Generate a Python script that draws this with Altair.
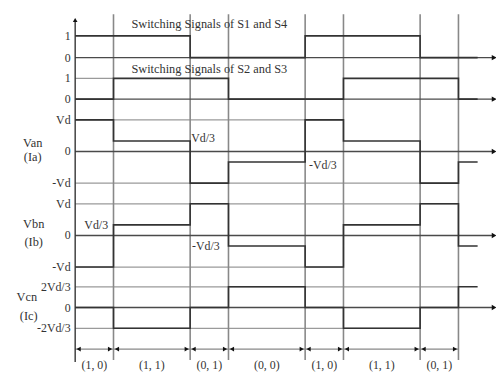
import altair as alt
import pandas as pd

# ---------------- data ----------------
edges = [0, 1, 3, 4, 6, 7, 9, 10, 10.5]          # switching instants (time units)
states = ["(1, 0)", "(1, 1)", "(0, 1)", "(0, 0)", "(1, 0)", "(1, 1)", "(0, 1)"]
s1 = [1, 1, 0, 0, 1, 1, 0, 0]
s2 = [0, 1, 1, 0, 0, 1, 1, 0]
van = [1, 1/3, -1, -1/3, 1, 1/3, -1, -1/3]       # in units of Vd
vbn = [-1, 1/3, 1, -1/3, -1, 1/3, 1, -1/3]
vcn = [0, -2/3, 0, 2/3, 0, -2/3, 0, 2/3]

tick_S = [(1, "1"), (0, "0")]
tick_V = [(1, "Vd"), (0, "0"), (-1, "-Vd")]
tick_C = [(2/3, "2Vd/3"), (0, "0"), (-2/3, "-2Vd/3")]

# ---------------- layout ----------------
PX = 38.8                 # pixels per time unit
X0 = -68 / PX
W, H = 494, 364
X1 = X0 + W / PX
T_END = 10.93             # arrow tip of time axes

# panel: (zero level position from top, pixels per unit)
panels = {
    "S1": (48, 22), "S2": (90, 21), "Van": (143, 32),
    "Vbn": (228, 32), "Vcn": (301, 31.5),
}
signals = {"S1": s1, "S2": s2, "Van": van, "Vbn": vbn, "Vcn": vcn}
ticks = {"S1": tick_S, "S2": tick_S, "Van": tick_V, "Vbn": tick_V, "Vcn": tick_C}

def pos(p, v):
    z, a = panels[p]
    return z - v * a

FONT = "Liberation Serif"
xs = alt.Scale(domain=[X0, X1], nice=False, zero=False)
ys = alt.Scale(domain=[0, H], reverse=True, nice=False, zero=False)

def X(f="t"):
    return alt.X(f"{f}:Q", scale=xs, axis=None)

def Y(f="d"):
    return alt.Y(f"{f}:Q", scale=ys, axis=None)

# step signals
rows = []
for p, vals in signals.items():
    vv = vals + [vals[-1]]
    for t, v in zip(edges, vv):
        rows.append({"s": p, "t": t, "d": pos(p, v)})
sig_df = pd.DataFrame(rows)
sig = alt.Chart(sig_df).mark_line(interpolate="step-after", color="#333333",
                                  strokeWidth=1.6, clip=False).encode(
    x=X(), y=Y(), detail="s:N")

# light gridlines at non-zero levels
grid_rows = [
    {"t": 0, "t2": 1, "d": pos("S2", 1)},
    {"t": 0, "t2": 7, "d": pos("Van", 1)},
    {"t": 0, "t2": 10, "d": pos("Van", -1)},
    {"t": 0, "t2": 10, "d": pos("Vbn", 1)},
    {"t": 0, "t2": 7, "d": pos("Vbn", -1)},
    {"t": 0, "t2": 10, "d": pos("Vcn", 2/3)},
    {"t": 0, "t2": 9, "d": pos("Vcn", -2/3)},
]
grid = alt.Chart(pd.DataFrame(grid_rows)).mark_rule(color="#9a9a9a", strokeWidth=1.2).encode(
    x=X(), x2=alt.X2("t2:Q"), y=Y())

# zero-level time axes with arrows
zero_df = pd.DataFrame([{"t": 0, "t2": T_END, "d": pos(p, 0)} for p in panels])
zero = alt.Chart(zero_df).mark_rule(color="#4a4a4a", strokeWidth=1.4).encode(
    x=X(), x2=alt.X2("t2:Q"), y=Y())
zero_head = alt.Chart(zero_df).mark_point(shape="triangle-right", filled=True, size=30,
                                          color="#111", opacity=1).encode(
    x=alt.X("t2:Q", scale=xs, axis=None), y=Y())

# vertical boundaries
vb_df = pd.DataFrame([{"t": t, "d": 4, "d2": 354} for t in edges[1:-1]])
vbound = alt.Chart(vb_df).mark_rule(color="#888888", strokeWidth=1.6).encode(
    x=X(), y=Y(), y2=alt.Y2("d2:Q"))

# left vertical axis with arrow
lax_df = pd.DataFrame([{"t": 0, "d": 10, "d2": 356}])
lax = alt.Chart(lax_df).mark_rule(color="#333", strokeWidth=1.4).encode(
    x=X(), y=Y(), y2=alt.Y2("d2:Q"))
lax_head = alt.Chart(lax_df).mark_point(shape="triangle-up", filled=True, size=22,
                                        color="#111", opacity=1).encode(x=X(), y=Y())

# bottom interval arrows
BAR = 343
iv_rows, head_rows, lab_rows = [], [], []
starts = edges[:-2]
ends = edges[1:-1]
for a, b, s in zip(starts, ends, states):
    iv_rows.append({"t": a, "t2": b, "d": BAR})
    head_rows.append({"t": a + 0.09, "d": BAR, "sh": "triangle-left"})
    head_rows.append({"t": b - 0.09, "d": BAR, "sh": "triangle-right"})
    lab_rows.append({"t": (a + b) / 2, "d": 359, "txt": s})
iv = alt.Chart(pd.DataFrame(iv_rows)).mark_rule(color="#888", strokeWidth=1.2).encode(
    x=X(), x2=alt.X2("t2:Q"), y=Y())
heads = alt.Chart(pd.DataFrame(head_rows)).mark_point(filled=True, size=24, color="#111",
                                                      opacity=1).encode(
    x=X(), y=Y(), shape=alt.Shape("sh:N", scale=None, legend=None))
iv_lab = alt.Chart(pd.DataFrame(lab_rows)).mark_text(font=FONT, fontSize=12, color="#333",
                                                     baseline="middle").encode(
    x=X(), y=Y(), text="txt:N")

# tick labels
tk_rows = []
for p, tl in ticks.items():
    for v, s in tl:
        tk_rows.append({"t": -0.12, "d": pos(p, v), "txt": s})
tk = alt.Chart(pd.DataFrame(tk_rows)).mark_text(font=FONT, fontSize=12, color="#333",
                                                align="right", baseline="middle").encode(
    x=X(), y=Y(), text="txt:N")

# panel names
names = [
    ("Van", 33, 142), ("(Ia)", 33, 157),
    ("Vbn", 34, 224), ("(Ib)", 34, 243),
    ("Vcn", 27, 298), ("(Ic)", 29, 318),
]
nm_df = pd.DataFrame([{"t": (x - 76) / PX, "d": y - 8, "txt": s} for s, x, y in names])
nm = alt.Chart(nm_df).mark_text(font=FONT, fontSize=12.5, color="#333",
                                baseline="middle").encode(x=X(), y=Y(), text="txt:N")

# annotations
ann = [
    ("Van", 3.03, 0.42, "Vd/3"), ("Van", 6.1, -0.44, "-Vd/3"),
    ("Vbn", 0.24, 0.34, "Vd/3"), ("Vbn", 3.05, -0.34, "-Vd/3"),
]
an_df = pd.DataFrame([{"t": t, "d": pos(p, v), "txt": s} for p, t, v, s in ann])
an = alt.Chart(an_df).mark_text(font=FONT, fontSize=12, color="#333", align="left",
                                baseline="middle").encode(x=X(), y=Y(), text="txt:N")

# titles
titles = pd.DataFrame([
    {"t": 3.5, "d": 14, "txt": "Switching Signals of S1 and S4"},
    {"t": 3.5, "d": 60, "txt": "Switching Signals of S2 and S3"},
])
tt = alt.Chart(titles).mark_text(font=FONT, fontSize=12.5, color="#333",
                                 baseline="middle").encode(x=X(), y=Y(), text="txt:N")

chart = alt.layer(grid, vbound, zero, iv, sig, lax, zero_head, lax_head, heads,
                  iv_lab, tk, nm, an, tt).properties(
    width=W, height=H, autosize=alt.AutoSizeParams(type="none"),
    padding={"left": 0, "top": 0, "right": 0, "bottom": 0},
).configure_view(strokeWidth=0)

chart.save("out.html", embed_options={"renderer": "svg", "actions": False})
